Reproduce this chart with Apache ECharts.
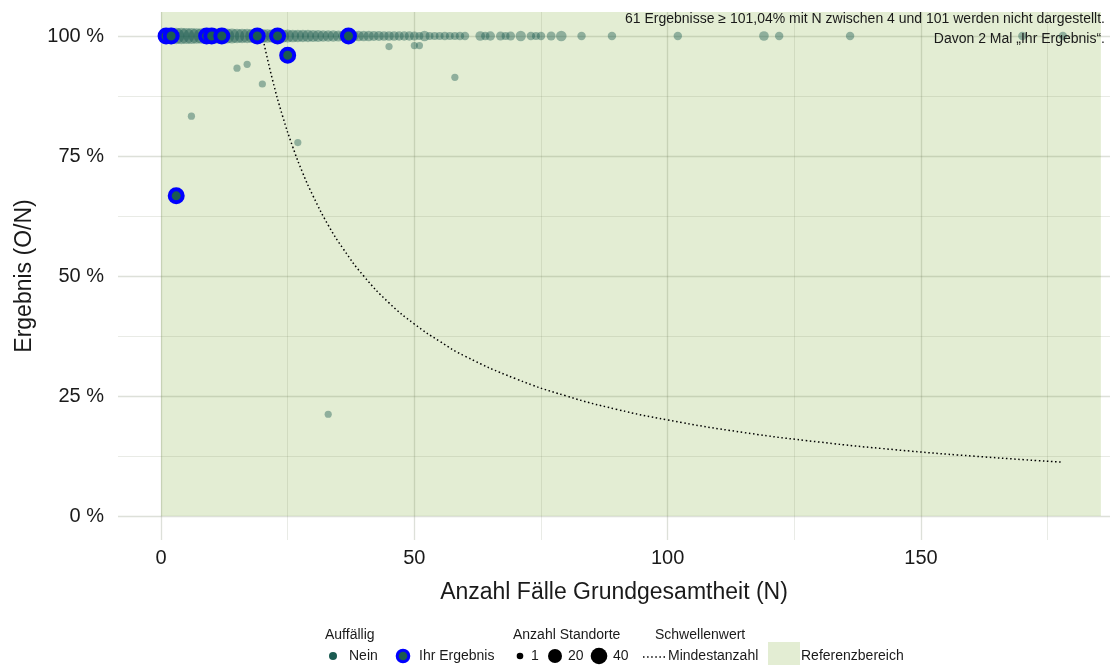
<!DOCTYPE html>
<html>
<head>
<meta charset="utf-8">
<script src="https://cdn.jsdelivr.net/npm/echarts@6/dist/echarts.min.js"></script>
<style>
  html, body { margin: 0; padding: 0; background: #fff; }
  #chart { width: 1110px; height: 665px; }
</style>
</head>
<body>
<div id="chart"></div>
<script>
// Ergebnisse bei 100 %: N und Anzahl Standorte
const stripN = [1, 2, 3, 4, 5, 6, 7, 8, 9, 10, 11, 12, 13, 14, 15, 16, 17, 18, 19, 20,
  21, 22, 23, 24, 25, 26, 27, 28, 29, 30, 31, 32, 33, 34, 35, 36, 37, 38, 39, 40,
  41, 42, 43, 44, 45, 46, 47, 48, 49, 50, 51, 52, 53, 54, 55, 56, 57, 58, 59, 60,
  63, 64, 65, 67, 68, 69, 71, 73, 74, 75, 77, 79, 83, 89, 102, 119, 122, 136, 170, 178];
const stripCount = [36, 42, 40, 40, 38, 38, 36, 36, 35, 34, 33, 32, 31, 30, 29, 28, 27, 26, 25, 24,
  23, 22, 21, 20, 19, 18, 17, 16, 16, 15, 14, 13, 12, 12, 11, 10, 10, 9, 9, 8,
  8, 7, 7, 6, 6, 6, 5, 5, 5, 4, 2, 8, 2, 2, 2, 3, 2, 2, 3, 3,
  6, 3, 5, 4, 2, 4, 8, 3, 2, 3, 4, 9, 3, 3, 3, 6, 3, 3, 3, 3];

// Einzelne Ergebnisse unter 100 %
const otherN = [6, 15, 17, 20, 27, 33, 45, 50, 51, 58];
const otherPct = [83.3, 93.3, 94.1, 90.0, 77.8, 21.2, 97.8, 98.0, 98.0, 91.4];
const otherCount = [1, 1, 1, 1, 1, 1, 1, 1, 1, 1];

// Ihr Ergebnis
const ownN = [1, 2, 9, 10, 12, 19, 23, 37, 25, 3];
const ownPct = [100, 100, 100, 100, 100, 100, 100, 100, 96.0, 66.7];

// Schwellenwert Mindestanzahl
const minN = [20, 22, 24, 26, 28, 30, 33, 36, 40, 45, 50, 55, 60, 70, 80, 90, 100, 115, 130, 145, 160, 178];
const minPct = [100, 90.9, 83.3, 76.9, 71.4, 66.7, 60.6, 55.6, 50.0, 44.4, 40.0, 36.4, 33.3, 28.6,
  25.0, 22.2, 20.0, 17.4, 15.4, 13.8, 12.5, 11.2];

// Referenzbereich
const refBox = [0, 0, 185.5, 105];

// Achsen
const xMajor = [0, 50, 100, 150];
const xMinor = [25, 75, 125, 175];
const yMajor = [0, 25, 50, 75, 100];
const yMinor = [12.5, 37.5, 62.5, 87.5];

const FONT = '"Liberation Sans", Arial, sans-serif';
const TEAL = '#1b5b52';
const sizeOf = c => 5.5 + 1.7 * Math.sqrt(c);

const greyData = stripN.map((n, i) => [n, 100, stripCount[i]])
  .concat(otherN.map((n, i) => [n, otherPct[i], otherCount[i]]));
const ownData = ownN.map((n, i) => [n, ownPct[i]]);
const minData = minN.map((n, i) => [n, minPct[i]]);

var myChart = echarts.init(document.getElementById('chart'));

const gridMajor = 'rgba(100,112,80,0.22)';
const gridMinor = 'rgba(100,112,80,0.14)';

function axisX(values, color, width, labels) {
  return {
    type: 'value', min: -8.49, max: 187.3, z: 1,
    axisLine: { show: false },
    axisTick: { show: false, customValues: values },
    splitLine: { show: true, lineStyle: { color: color, width: width } },
    axisLabel: labels ? {
      show: true, customValues: labels, margin: 8,
      fontFamily: FONT, fontSize: 20, color: '#1a1a1a'
    } : { show: false }
  };
}
function axisY(values, color, width, labels) {
  return {
    type: 'value', min: -5, max: 105, z: 1,
    axisLine: { show: false },
    axisTick: { show: false, customValues: values },
    splitLine: { show: true, lineStyle: { color: color, width: width } },
    axisLabel: labels ? {
      show: true, customValues: labels, margin: 14,
      fontFamily: FONT, fontSize: 20, color: '#1a1a1a',
      formatter: v => v + ' %'
    } : { show: false }
  };
}

const xMain = axisX(xMajor, gridMajor, 1.3, xMajor);
xMain.name = 'Anzahl Fälle Grundgesamtheit (N)';
xMain.nameLocation = 'middle';
xMain.nameGap = 41;
xMain.nameTextStyle = { fontFamily: FONT, fontSize: 23, color: '#1a1a1a' };

const yMain = axisY(yMajor, gridMajor, 1.3, yMajor);
yMain.name = 'Ergebnis (O/N)';
yMain.nameLocation = 'middle';
yMain.nameGap = 72;
yMain.nameTextStyle = { fontFamily: FONT, fontSize: 23, color: '#1a1a1a' };

const legendText = (text, x, y) => ({
  type: 'text', x: x, y: y, z: 10,
  style: { text: text, font: '14px ' + FONT, fill: '#1a1a1a', verticalAlign: 'middle' }
});
const noteText = (text, y) => ({
  type: 'text', x: 1105, y: y, z: 10,
  style: { text: text, font: '14px ' + FONT, fill: '#1a1a1a', align: 'right', verticalAlign: 'middle' }
});

var option = {
  animation: false,
  grid: { left: 118, right: 0, top: 12, bottom: 125 },
  xAxis: [xMain, axisX(xMinor, gridMinor, 1, null)],
  yAxis: [yMain, axisY(yMinor, gridMinor, 1, null)],
  series: [
    {
      name: 'Referenzbereich',
      type: 'custom',
      z: 0,
      silent: true,
      data: [refBox],
      renderItem: (params, api) => {
        const p1 = api.coord([api.value(0), api.value(3)]);
        const p2 = api.coord([api.value(2), api.value(1)]);
        return {
          type: 'rect',
          shape: { x: p1[0], y: p1[1], width: p2[0] - p1[0], height: p2[1] - p1[1] },
          style: { fill: '#e3edd3' }
        };
      }
    },
    {
      name: 'Mindestanzahl',
      type: 'line',
      z: 3,
      data: minData,
      smooth: true,
      showSymbol: false,
      lineStyle: { color: '#000', width: 1.5, type: [1.5, 2.6] }
    },
    {
      name: 'Nein',
      type: 'scatter',
      z: 4,
      data: greyData,
      symbolSize: v => sizeOf(v[2]),
      itemStyle: { color: TEAL, opacity: 0.42 }
    },
    {
      name: 'Ihr Ergebnis',
      type: 'scatter',
      z: 5,
      data: ownData,
      symbolSize: 13,
      itemStyle: { color: TEAL, borderColor: '#0000ff', borderWidth: 4, opacity: 1 }
    }
  ],
  graphic: [
    noteText('61 Ergebnisse ≥ 101,04% mit N zwischen 4 und 101 werden nicht dargestellt.', 19),
    noteText('Davon 2 Mal „Ihr Ergebnis“.', 39),
    legendText('Auffällig', 325, 635),
    { type: 'circle', z: 10, shape: { cx: 333, cy: 656, r: 4 }, style: { fill: TEAL } },
    legendText('Nein', 349, 656),
    { type: 'circle', z: 10, shape: { cx: 403, cy: 656, r: 5.8 }, style: { fill: TEAL, stroke: '#0000ff', lineWidth: 3 } },
    legendText('Ihr Ergebnis', 419, 656),
    legendText('Anzahl Standorte', 513, 635),
    { type: 'circle', z: 10, shape: { cx: 520, cy: 656, r: 3.3 }, style: { fill: '#000' } },
    legendText('1', 531, 656),
    { type: 'circle', z: 10, shape: { cx: 555, cy: 656, r: 7 }, style: { fill: '#000' } },
    legendText('20', 568, 656),
    { type: 'circle', z: 10, shape: { cx: 599, cy: 656, r: 8.3 }, style: { fill: '#000' } },
    legendText('40', 613, 656),
    legendText('Schwellenwert', 655, 635),
    { type: 'line', z: 10, shape: { x1: 643, y1: 657, x2: 666, y2: 657 }, style: { stroke: '#000', lineWidth: 1.5, lineDash: [1.5, 2.6] } },
    legendText('Mindestanzahl', 668, 656),
    { type: 'rect', z: 10, shape: { x: 768, y: 642, width: 32, height: 30 }, style: { fill: '#e3edd3' } },
    legendText('Referenzbereich', 801, 656)
  ]
};

option && myChart.setOption(option);
</script>
</body>
</html>
